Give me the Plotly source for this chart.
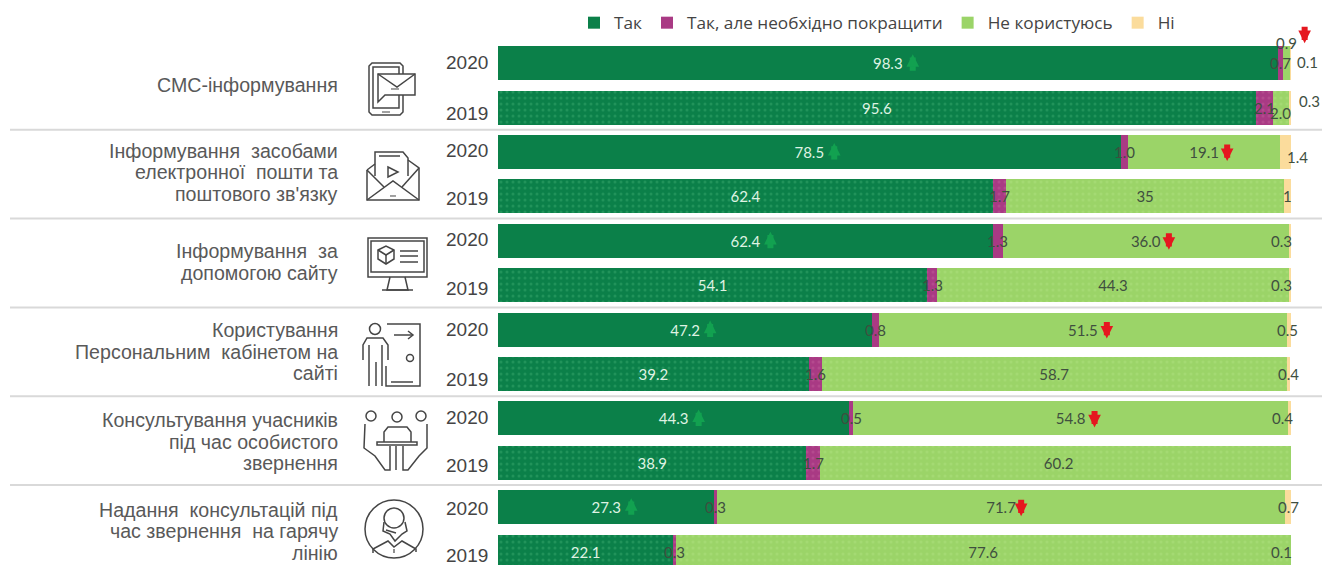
import plotly.graph_objects as go

categories = ["СМС-інформування",
              "Інформування\u00a0\u00a0засобами<br>електронної\u00a0\u00a0пошти та<br>поштового зв'язку",
              "Інформування\u00a0\u00a0за<br>допомогою сайту",
              "Користування<br>Персональним\u00a0\u00a0кабінетом на<br>сайті",
              "Консультування учасників<br>під час особистого<br>звернення",
              "Надання\u00a0\u00a0консультацій під<br>час звернення\u00a0\u00a0на гарячу<br>лінію"]
years = ["2020", "2019"] * 6
series_names = ["Так", "Так, але необхідно покращити", "Не користуюсь", "Ні"]
yes = [98.3, 95.6, 78.5, 62.4, 62.4, 54.1, 47.2, 39.2, 44.3, 38.9, 27.3, 22.1]
improve = [0.7, 2.1, 1.0, 1.7, 1.3, 1.3, 0.8, 1.6, 0.5, 1.7, 0.3, 0.3]
not_used = [0.9, 2.0, 19.1, 35, 36.0, 44.3, 51.5, 58.7, 54.8, 60.2, 71.7, 77.6]
no = [0.1, 0.3, 1.4, 1, 0.3, 0.3, 0.5, 0.4, 0.4, 0, 0.7, 0.1]
not_used_text = ["0.9", "2.0", "19.1", "35", "36.0", "44.3", "51.5", "58.7", "54.8", "60.2", "71.7", "77.6"]

# styles
W, H = 1322, 565
L, R, T, B = 498, 1291, 41, 565
PITCH = 44.4
colors = ["#0b8049", "#a93a84", "#9bd468", "#fbdc9c"]
dots = ["#37a56c", "#c05a98", "#aee07e", "#fbdc9c"]
TXT = "#3f4f3f"
GREY = "#595959"
ICON = "#454545"
LABEL_FONT = "Lato, Noto Sans"


def px(x):
    return (x - L) / (R - L)


def py(y):
    return 1 - (y - T) / (B - T)


rows = list(range(12))
fig = go.Figure()
values = [yes, improve, not_used, no]
texts = [[f"{v:.1f}" for v in yes], None, ["", ""] + not_used_text[2:], None]
label_colors = ["#dff3e3", TXT, TXT, TXT]
for k, name in enumerate(series_names):
    t = texts[k]
    fig.add_trace(go.Bar(
        name=name, y=rows, x=values[k], orientation="h", width=0.77,
        marker=dict(color=colors[k], line=dict(width=0),
                    pattern=dict(shape=["" if r % 2 == 0 else "." for r in rows],
                                 size=6, solidity=0.2, fgcolor=dots[k], bgcolor=colors[k])),
        text=t, textposition="inside" if t else "none", insidetextanchor="middle", textangle=0,
        constraintext="none", textfont=dict(family=LABEL_FONT, size=15, color=label_colors[k]),
        hoverinfo="x+name",
    ))

ann = []
shapes = []


def label(x, row, text, dx=0, dy=0):
    ann.append(dict(x=x, y=row, xref="x", yref="y", text=text, showarrow=False, xshift=dx, yshift=dy,
                    font=dict(family=LABEL_FONT, size=15, color=TXT)))


# labels of the narrow segments, drawn over the neighbouring bars
for r in rows:
    label(yes[r] + improve[r] / 2, r, f"{improve[r]:.1f}")
label(yes[0] + improve[0] + not_used[0] / 2, 0, not_used_text[0], 0, 20)
label(yes[1] + improve[1] + not_used[1] / 2, 1, not_used_text[1], 0, -5)
no_dx = [17, 20, 12, 0, -8, -8, -2, -1, -7, 0, 0, -9]
no_dy = [1, 7, -5, 0, 0, 0, 0, 0, 0, 0, 0, 0]
for r in rows:
    if no[r] > 0:
        label(100 - no[r] / 2, r, f"{no[r]:g}" if no[r] == 1 else f"{no[r]:.1f}", no_dx[r], no_dy[r])

# category labels, one annotation per line for the tight line pitch
cat_y_shift = [0, 2, 1, 0, -1, -2]
LINE = 21.5
for i, c in enumerate(categories):
    lines = c.split("<br>")
    for j, line in enumerate(lines):
        ann.append(dict(xref="paper", yref="y", x=px(340), y=2 * i + 0.5, xanchor="right", text=line,
                        showarrow=False, yshift=cat_y_shift[i] - (j - (len(lines) - 1) / 2) * LINE,
                        font=dict(family="Liberation Sans", size=19.6, color=GREY)))

# year labels
year_dy = [1, -5.6, 1.8, -2, 1.5, -3, 0.5, -5, 1, -2.4, -1, -4]
for r, y in zip(rows, years):
    ann.append(dict(xref="paper", yref="y", x=px(490), y=r, xanchor="right", text=y, showarrow=False,
                    yshift=year_dy[r], font=dict(family="Liberation Sans", size=19, color="#444444")))


# change arrows (placed in paper space horizontally, so they may sit right of the axis end)
def arrow(x, row, up, dx=0, dy=0):
    col = "#12a150" if up else "#e5171f"
    ann.append(dict(x=x / 100 + dx / (R - L), y=row, xref="paper", yref="y", text="", showarrow=True, arrowhead=2,
                    arrowsize=0.42, arrowwidth=6, arrowcolor=col, ax=0, ay=18 if up else -18, yshift=dy,
                    standoff=0, startstandoff=0))


for r in range(0, 12, 2):
    arrow(yes[r] / 2, r, True, 25, 9)
arrow(99.45, 0, False, 18, 20)
red_dx = {2: 23, 4: 23, 6: 24, 8: 24, 10: 20}
for r, dx in red_dx.items():
    arrow(yes[r] + improve[r] + not_used[r] / 2, r, False, dx, -9)

# separators
for i in range(5):
    shapes.append(dict(type="line", xref="paper", yref="y", x0=px(10), x1=px(1322), y0=2 * i + 1.5, y1=2 * i + 1.5,
                       line=dict(color="#d9d9d9", width=2), layer="below"))


# icons (decoration, drawn in page pixels)
def poly(points, close=False, width=1.5):
    s = "M" + "L".join(f"{px(x):.5f},{py(y):.5f}" for x, y in points) + ("Z" if close else "")
    shapes.append(dict(type="path", xref="paper", yref="paper", path=s, line=dict(color=ICON, width=width)))


def circ(cx, cy, r, width=1.5):
    shapes.append(dict(type="circle", xref="paper", yref="paper", x0=px(cx - r), x1=px(cx + r),
                       y0=py(cy + r), y1=py(cy - r), line=dict(color=ICON, width=width)))


# phone + message
poly([(378, 102), (378, 74), (415, 74), (415, 95), (385, 95)], True)
poly([(378, 74), (397, 87), (415, 74)])
poly([(391, 89), (399, 89)], width=1)
poly([(403, 74), (403, 66), (400, 63), (372, 63), (369, 66), (369, 112), (372, 115), (400, 115), (403, 112), (403, 95)])
poly([(399, 74), (399, 67), (373, 67), (373, 108), (399, 108), (399, 95)])
poly([(382, 112), (390, 112)], width=1)
# envelope + document
poly([(367, 170), (367, 200), (419, 200), (419, 168), (408, 160)])
poly([(367, 170), (375, 164)])
poly([(367, 170), (384, 187)])
poly([(419, 168), (402, 187)])
poly([(367, 200), (393, 181), (419, 200)])
poly([(375, 176), (375, 152), (403, 152), (408, 158), (408, 176)])
poly([(379, 156), (400, 156)])
poly([(388, 167), (398, 172), (388, 177)], True)
poly([(390, 196), (396, 196)], width=1)
# monitor
poly([(368, 238), (427, 238), (427, 277), (368, 277)], True)
poly([(371, 241), (424, 241), (424, 272), (371, 272)], True)
poly([(390, 277), (387, 290), (408, 290), (405, 277)])
poly([(382, 290), (413, 290)])
poly([(378, 250), (386, 246), (394, 250), (394, 259), (386, 264), (378, 259)], True)
poly([(378, 250), (386, 255), (394, 250)])
poly([(386, 255), (386, 264)])
poly([(400, 251), (418, 251)])
poly([(400, 256), (418, 256)])
poly([(400, 262), (418, 262)])
# person + door
circ(375, 329, 5.5)
poly([(363, 360), (363, 345), (367, 338), (383, 338), (388, 345), (388, 360)])
poly([(369, 345), (369, 386)])
poly([(376, 362), (376, 386)])
poly([(382, 345), (382, 386)])
poly([(387, 324), (420, 324), (420, 386), (386, 386), (386, 366)])
poly([(394, 335), (413, 335)])
poly([(408, 331), (413, 335), (408, 339)])
circ(410, 358, 3.5)
poly([(391, 382), (413, 382)])
# three people at table
for cx, cy in [(371, 416), (397, 417), (421, 416)]:
    circ(cx, cy, 5)
poly([(377, 442), (417, 442), (417, 445), (377, 445)], True)
poly([(384, 442), (384, 432), (388, 427), (407, 427), (411, 432), (411, 442)])
poly([(365, 424), (364, 448), (375, 456), (385, 470), (390, 470), (390, 446)])
poly([(427, 424), (427, 448), (419, 456), (408, 470), (403, 470), (403, 446)])
poly([(396, 446), (396, 470)])
# headset agent
circ(394, 529, 29)
circ(394, 518, 10)
poly([(384, 522), (383, 531), (390, 534), (395, 541), (402, 534), (407, 531), (405, 522)])
poly([(386, 530), (396, 533)])
poly([(373, 553), (373, 549), (388, 541), (394, 547), (402, 541), (416, 549), (416, 552)])
poly([(394, 549), (394, 553)], width=1.2)

fig.update_layout(
    width=W, height=H, barmode="stack", bargap=0.23, showlegend=True,
    margin=dict(l=L, r=W - R, t=T, b=H - B, autoexpand=False),
    plot_bgcolor="white", paper_bgcolor="white",
    xaxis=dict(range=[0, 100], visible=False, fixedrange=True),
    yaxis=dict(range=[(B - T) / PITCH - 0.5, -0.5], visible=False, fixedrange=True),
    legend=dict(orientation="h", x=px(574), xanchor="left", y=py(23), yanchor="middle", bgcolor="rgba(0,0,0,0)",
                font=dict(family="Open Sans", size=17.2, color="#444444"), traceorder="normal"),
    annotations=ann, shapes=shapes, uniformtext=dict(mode=False),
)
fig.write_html("out.html", config=dict(displayModeBar=False),
               post_script="document.body.style.margin='0';document.body.style.overflow='hidden';")
